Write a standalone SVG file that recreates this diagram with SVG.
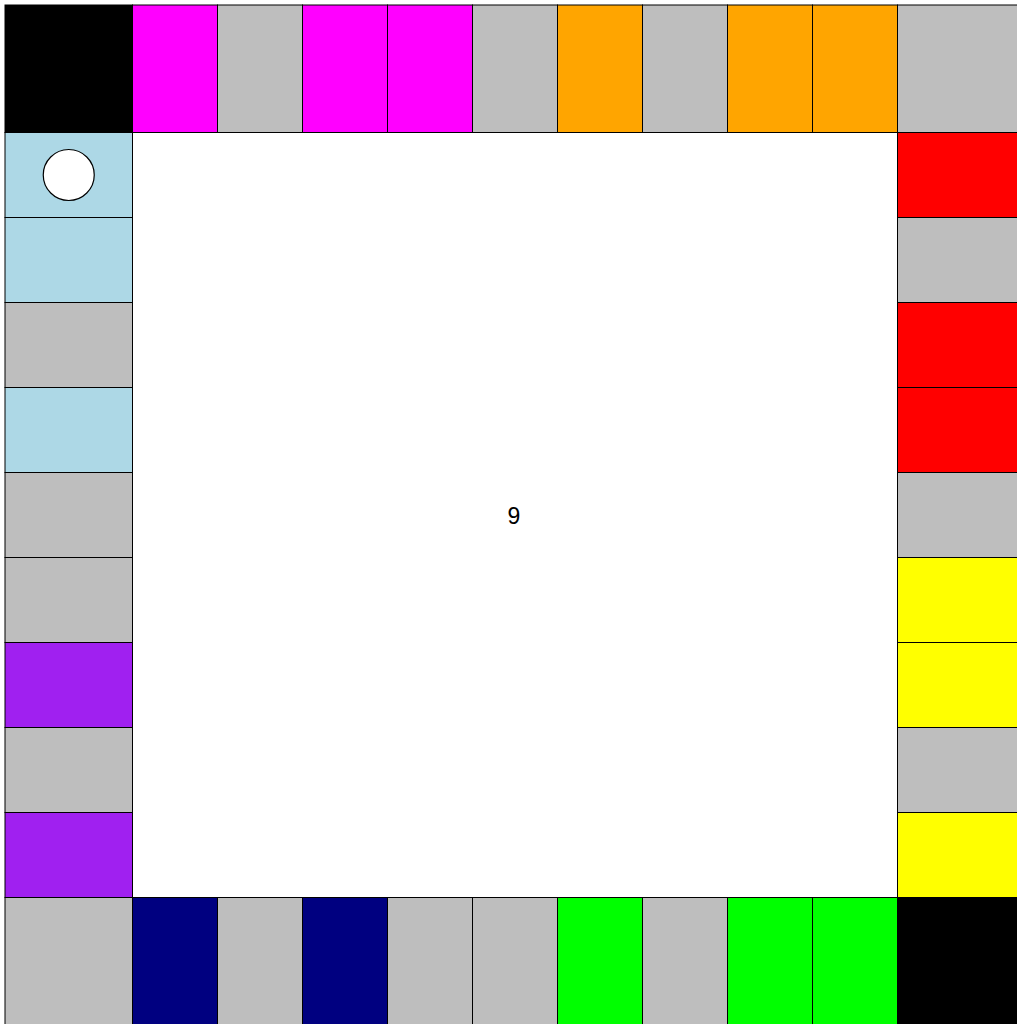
<svg xmlns="http://www.w3.org/2000/svg" width="1017" height="1024" viewBox="0 0 1017 1024">
<style>
.c rect{stroke:#000;stroke-width:1}
.k{fill:#000}.g{fill:#bebebe}.m{fill:#f0f}.o{fill:#ffa500}.r{fill:#f00}.y{fill:#ff0}
.l{fill:#0f0}.n{fill:#000080}.b{fill:#add8e6}.p{fill:#a020f0}
</style>
<rect x="0" y="0" width="1017" height="1024" fill="#fff"/>
<g id="center" class="c"><rect x="132.5" y="132.5" width="765" height="765" fill="#fff"/>
<text x="514" y="524" font-family="Liberation Sans, Arial, sans-serif" font-size="23" text-anchor="middle">9</text></g>
<g id="top" class="c">
<rect class="k" x="5" y="5" width="127.5" height="127.5"/>
<rect class="m" x="132.5" y="5" width="85" height="127.5"/>
<rect class="g" x="217.5" y="5" width="85" height="127.5"/>
<rect class="m" x="302.5" y="5" width="85" height="127.5"/>
<rect class="m" x="387.5" y="5" width="85" height="127.5"/>
<rect class="g" x="472.5" y="5" width="85" height="127.5"/>
<rect class="o" x="557.5" y="5" width="85" height="127.5"/>
<rect class="g" x="642.5" y="5" width="85" height="127.5"/>
<rect class="o" x="727.5" y="5" width="85" height="127.5"/>
<rect class="o" x="812.5" y="5" width="85" height="127.5"/>
<rect class="g" x="897.5" y="5" width="127.5" height="127.5"/>
</g>
<g id="right" class="c">
<rect class="r" x="897.5" y="132.5" width="127.5" height="85"/>
<rect class="g" x="897.5" y="217.5" width="127.5" height="85"/>
<rect class="r" x="897.5" y="302.5" width="127.5" height="85"/>
<rect class="r" x="897.5" y="387.5" width="127.5" height="85"/>
<rect class="g" x="897.5" y="472.5" width="127.5" height="85"/>
<rect class="y" x="897.5" y="557.5" width="127.5" height="85"/>
<rect class="y" x="897.5" y="642.5" width="127.5" height="85"/>
<rect class="g" x="897.5" y="727.5" width="127.5" height="85"/>
<rect class="y" x="897.5" y="812.5" width="127.5" height="85"/>
</g>
<g id="bottom" class="c">
<rect class="g" x="5" y="897.5" width="127.5" height="127.5"/>
<rect class="n" x="132.5" y="897.5" width="85" height="127.5"/>
<rect class="g" x="217.5" y="897.5" width="85" height="127.5"/>
<rect class="n" x="302.5" y="897.5" width="85" height="127.5"/>
<rect class="g" x="387.5" y="897.5" width="85" height="127.5"/>
<rect class="g" x="472.5" y="897.5" width="85" height="127.5"/>
<rect class="l" x="557.5" y="897.5" width="85" height="127.5"/>
<rect class="g" x="642.5" y="897.5" width="85" height="127.5"/>
<rect class="l" x="727.5" y="897.5" width="85" height="127.5"/>
<rect class="l" x="812.5" y="897.5" width="85" height="127.5"/>
<rect class="k" x="897.5" y="897.5" width="127.5" height="127.5"/>
</g>
<g id="left" class="c">
<rect class="b" x="5" y="132.5" width="127.5" height="85"/>
<rect class="b" x="5" y="217.5" width="127.5" height="85"/>
<rect class="g" x="5" y="302.5" width="127.5" height="85"/>
<rect class="b" x="5" y="387.5" width="127.5" height="85"/>
<rect class="g" x="5" y="472.5" width="127.5" height="85"/>
<rect class="g" x="5" y="557.5" width="127.5" height="85"/>
<rect class="p" x="5" y="642.5" width="127.5" height="85"/>
<rect class="g" x="5" y="727.5" width="127.5" height="85"/>
<rect class="p" x="5" y="812.5" width="127.5" height="85"/>
</g>
<g id="token"><circle cx="68.75" cy="175" r="25.5" fill="#fff" stroke="#000" stroke-width="1.2"/></g>
</svg>
